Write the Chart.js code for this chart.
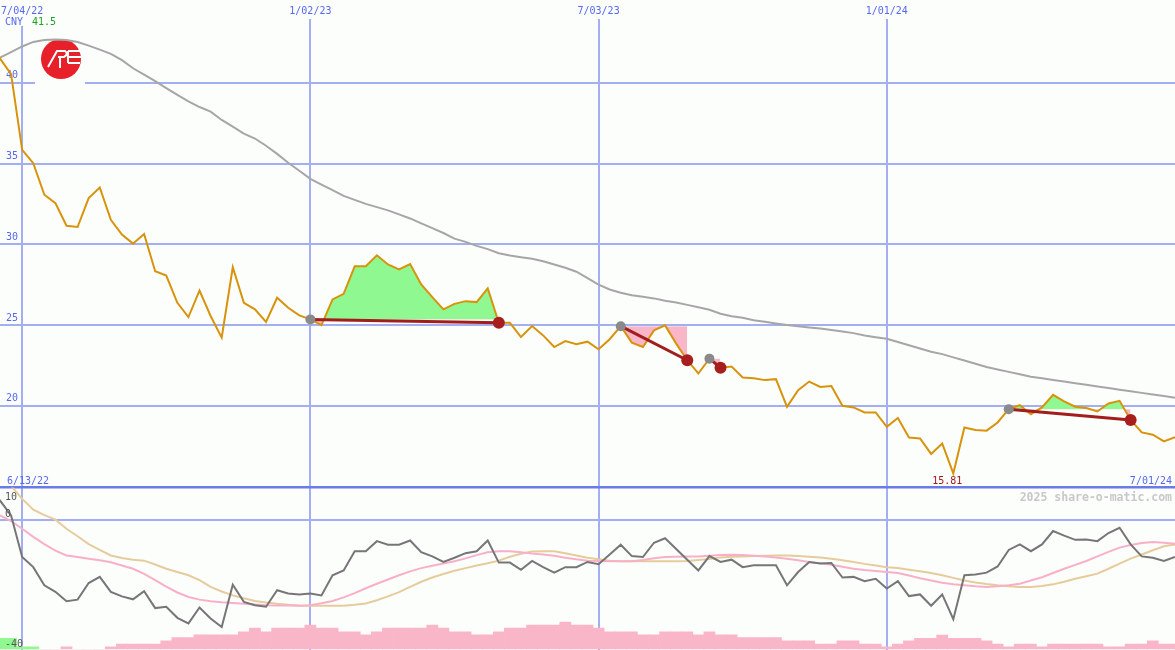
<!DOCTYPE html>
<html>
<head>
<meta charset="utf-8">
<title>CNY weekly chart</title>
<script src="https://cdn.jsdelivr.net/npm/chart.js@4.4.1/dist/chart.umd.min.js"></script>
<style>
  html, body { margin: 0; padding: 0; background: #fcfefc; }
  canvas { display: block; }
</style>
</head>
<body>
<canvas id="chart" width="1175" height="650" style="width:1175px;height:650px"></canvas>
<script>
// weekly closes, first week starts 6/13/22
const currency = 'CNY';
const firstWeek = new Date(2022, 5, 13);

const priceValues = [
  42.0, 41.5, 40.54, 35.85, 35.02, 33.07, 32.55, 31.15, 31.07, 32.86,
  33.52, 31.52, 30.6, 30.04, 30.64, 28.33, 28.06, 26.38, 25.49, 27.14,
  25.56, 24.22, 28.58, 26.38, 25.97, 25.19, 26.69, 26.07, 25.6, 25.35,
  25.0, 26.59, 26.93, 28.64, 28.64, 29.32, 28.75, 28.44, 28.78, 27.51,
  26.73, 25.97, 26.31, 26.48, 26.42, 27.27, 25.14, 25.14, 24.26, 24.94,
  24.36, 23.64, 24.01, 23.81, 23.97, 23.5, 24.12, 24.93, 23.91, 23.64,
  24.67, 24.98, 23.85, 22.82, 22.0, 22.92, 22.36, 22.43, 21.75, 21.71,
  21.59, 21.65, 19.94, 20.97, 21.5, 21.17, 21.23, 20.0, 19.9, 19.59,
  19.59, 18.7, 19.24, 18.04, 17.98, 17.02, 17.67, 15.81, 18.66, 18.5,
  18.46, 18.97, 19.79, 20.04, 19.48, 19.9, 20.68, 20.27, 19.94, 19.86,
  19.65, 20.14, 20.31, 19.12, 18.35, 18.21, 17.8, 18.05
];

// long moving average (grey)
const avgValues = [
  41.3, 41.56, 41.9, 42.25, 42.53, 42.65, 42.68, 42.65, 42.53, 42.3,
  42.05, 41.79, 41.4, 40.9, 40.5, 40.1, 39.67, 39.25, 38.85, 38.5,
  38.21, 37.7, 37.28, 36.85, 36.55, 36.1, 35.6, 35.05, 34.55, 34.05,
  33.7, 33.35, 33.0, 32.75, 32.5, 32.3, 32.1, 31.85, 31.6, 31.3,
  31.0, 30.7, 30.35, 30.15, 29.9, 29.7, 29.45, 29.3, 29.2, 29.1,
  28.95, 28.75, 28.55, 28.3, 27.9, 27.5, 27.2, 27.0, 26.85, 26.75,
  26.65, 26.5, 26.4, 26.25, 26.1, 25.95, 25.7, 25.55, 25.45, 25.3,
  25.2, 25.1, 25.0, 24.92, 24.85, 24.78, 24.7, 24.6, 24.5, 24.35,
  24.25, 24.15, 23.95, 23.75, 23.55, 23.35, 23.2, 23.0, 22.8, 22.6,
  22.4, 22.25, 22.1, 21.95, 21.8, 21.7, 21.6, 21.5, 21.4, 21.3,
  21.2, 21.1, 21.0, 20.9, 20.8, 20.7, 20.6, 20.5
];

// lower panel: oscillator (dark grey) and its two averages
const oscValues = [
  9, 6.0, 1.4, -11.4, -14.5, -20.1, -22.1, -25.0, -24.5, -19.4,
  -17.5, -22.1, -23.5, -24.4, -21.9, -27.1, -26.7, -30.1, -31.8, -26.9,
  -30.3, -32.9, -19.9, -25.2, -26.2, -26.7, -21.6, -22.6, -22.9, -22.6,
  -23.2, -17.0, -15.5, -9.6, -9.6, -6.5, -7.6, -7.6, -6.3, -9.9,
  -11.2, -12.9, -11.6, -10.2, -9.6, -6.3, -13.1, -13.1, -15.3, -12.6,
  -14.5, -16.2, -14.5, -14.5, -12.9, -13.6, -10.6, -7.6, -11.1, -11.4,
  -7.0, -5.6, -8.9, -12.2, -15.5, -11.1, -12.9, -12.2, -14.5, -13.9,
  -13.9, -13.9, -20.1, -16.0, -12.9, -13.4, -13.2, -17.7, -17.5, -18.8,
  -18.1, -21.1, -18.8, -23.4, -22.9, -26.4, -22.9, -30.5, -17.0, -16.8,
  -16.2, -14.3, -9.2, -7.5, -9.6, -7.5, -3.4, -4.8, -6.1, -6.0,
  -6.5, -4.0, -2.4, -7.5, -11.2, -11.6, -12.6, -11.4
];

const oscFast = [
  3.0, 1.4, -0.3, -2.7, -5.2, -7.4, -9.4, -10.9, -11.4, -11.9,
  -12.4, -13.0, -14.0, -15.0, -16.6, -18.5, -20.5, -22.3, -23.7, -24.5,
  -25.0, -25.3, -25.5, -25.8, -26.0, -26.2, -26.3, -26.3, -26.4, -26.2,
  -25.6, -24.9, -23.8, -22.5, -21.0, -19.6, -18.3, -17.0, -15.8, -14.8,
  -14.1, -13.4, -12.7, -11.8, -10.8, -9.9, -9.6, -9.6, -9.9, -10.3,
  -10.6, -11.0, -11.6, -12.1, -12.5, -12.6, -12.7, -12.7, -12.7, -12.3,
  -11.8, -11.4, -11.3, -11.2, -11.2, -11.0, -10.8, -10.7, -10.8, -11.0,
  -11.2, -11.5, -11.9, -12.4, -12.9, -13.3, -13.8, -14.4, -15.0, -15.4,
  -15.7, -16.0, -16.3, -17.1, -17.9, -18.6, -19.3, -19.8, -20.1, -20.4,
  -20.6, -20.4, -20.1, -19.6, -18.6, -17.6, -16.3, -15.0, -13.8, -12.6,
  -11.2, -9.8, -8.5, -7.7, -7.1, -6.8, -7.0, -7.3
];

const oscSlow = [
  18.5, 15.0, 10.5, 6.5, 3.2, 1.5, 0.1, -2.7, -5.0, -7.4,
  -9.2, -10.9, -11.7, -12.2, -12.5, -13.7, -15.0, -16.0, -17.0, -18.5,
  -20.6, -22.0, -23.2, -24.1, -24.9, -25.4, -25.8, -26.1, -26.3, -26.4,
  -26.4, -26.4, -26.4, -26.1, -25.7, -24.7, -23.5, -22.2, -20.6, -19.0,
  -17.7, -16.6, -15.6, -14.8, -14.0, -13.3, -12.5, -11.3, -10.4, -9.7,
  -9.6, -9.6, -10.2, -10.9, -11.6, -12.1, -12.5, -12.7, -12.7, -12.7,
  -12.7, -12.7, -12.7, -12.6, -12.3, -12.0, -11.5, -11.3, -11.2, -11.1,
  -11.0, -10.9, -10.9, -11.1, -11.3, -11.5, -11.9, -12.4, -12.9, -13.5,
  -14.0, -14.5, -14.8, -15.3, -15.8, -16.3, -17.0, -17.8, -18.6, -19.2,
  -19.7, -20.1, -20.4, -20.6, -20.6, -20.3, -19.8, -19.0, -18.1, -17.3,
  -16.5, -15.0, -13.4, -11.9, -10.6, -9.3, -8.1, -7.5
];

// histogram: positive = green, negative = pink, drawn up from the bottom
const histValues = [
  3.6, 3.6, 3.6, 1, 1, 0, 0, -1, 0, 0,
  0, -1, -1.85, -1.85, -1.85, -1.85, -2.8, -3.8, -3.8, -4.7,
  -4.7, -4.7, -4.7, -5.6, -6.75, -5.6, -6.75, -6.75, -6.75, -7.7,
  -6.75, -6.75, -5.6, -5.6, -4.7, -5.6, -6.75, -6.75, -6.75, -6.75,
  -7.7, -6.75, -5.6, -5.6, -4.7, -4.7, -5.6, -6.75, -6.75, -7.7,
  -7.7, -7.7, -8.6, -7.7, -7.7, -6.75, -5.6, -5.6, -5.6, -4.7,
  -4.7, -5.6, -5.6, -5.6, -4.7, -5.6, -4.7, -4.7, -3.8, -3.8,
  -3.8, -3.8, -2.8, -2.8, -2.8, -1.85, -1.85, -2.8, -2.8, -1.85,
  -1.85, -1.0, -1.85, -2.8, -3.6, -3.6, -4.6, -3.6, -3.6, -3.6,
  -2.8, -1.85, -1.0, -1.85, -1.85, -1.0, -1.85, -1.85, -1.85, -1.85,
  -1.85, -1.0, -1.0, -1.85, -1.85, -2.8, -1.85, -1.85
];
const histBase = -40;

const priceTicks = [20, 25, 30, 35, 40];
const lowerTicks = [10, 0, -40];
const dateTicks = ['7/04/22', '1/02/23', '7/03/23', '1/01/24'];

// trend signals: start (grey dot) and end (red dot)
const signalStart = ['1/02/23', '7/17/23', '9/11/23', '3/18/24'];
const signalEnd = ['5/01/23', '8/28/23', '9/18/23', '6/03/24'];

const pageBg = '#fcfefc';
const gridBlue = '#a4aef2';
const sepBlue = '#6a7ae6';
const labelBlue = '#5668ee';
const upGreen = '#90f890';
const downPink = '#f9b6c9';
const monoFont = { family: '"DejaVu Sans Mono", monospace', size: 10 };

function fmtDate(d) {
  return (d.getMonth() + 1) + '/' + String(d.getDate()).padStart(2, '0') + '/' +
    String(d.getFullYear() % 100).padStart(2, '0');
}

const weekLabels = priceValues.map((_, i) => {
  const d = new Date(firstWeek);
  d.setDate(d.getDate() + 7 * i);
  return fmtDate(d);
});

const datasets = [];

signalStart.forEach((s, k) => {
  const a = weekLabels.indexOf(s);
  const b = weekLabels.indexOf(signalEnd[k]);
  datasets.push({
    label: 'signal ' + (k + 1),
    data: priceValues.map((v, i) => (i === a || i === b) ? v : null),
    yAxisID: 'y',
    borderColor: '#a21d1d',
    borderWidth: 3,
    spanGaps: true,
    pointRadius: c => (c.dataIndex === a ? 5 : 6),
    pointBackgroundColor: c => (c.dataIndex === a ? '#8a8a8a' : '#a81e1e'),
    pointBorderWidth: 0,
    order: 0
  });
});

datasets.push({
  label: 'close',
  data: priceValues,
  yAxisID: 'y',
  borderColor: '#d8930c',
  borderWidth: 2,
  pointRadius: 0,
  order: 1
});

datasets.push({
  label: 'average',
  data: avgValues,
  yAxisID: 'y',
  borderColor: '#a6a6a6',
  borderWidth: 2,
  pointRadius: 0,
  order: 2
});

// shaded band between the close and the level at signal start
signalStart.forEach((s, k) => {
  const a = weekLabels.indexOf(s);
  const b = weekLabels.indexOf(signalEnd[k]);
  datasets.push({
    label: 'band ' + (k + 1),
    data: priceValues.map((v, i) => (i >= a && i <= b) ? v : null),
    yAxisID: 'y',
    borderColor: 'rgba(0,0,0,0)',
    borderWidth: 0,
    pointRadius: 0,
    fill: { target: { value: priceValues[a] }, above: upGreen, below: downPink },
    order: 3
  });
});

datasets.push({
  label: 'oscillator',
  data: oscValues,
  yAxisID: 'y2',
  borderColor: '#767676',
  borderWidth: 2,
  pointRadius: 0,
  order: 4
});
datasets.push({
  label: 'fast avg',
  data: oscFast,
  yAxisID: 'y2',
  borderColor: '#f8b0c8',
  borderWidth: 2,
  pointRadius: 0,
  order: 5
});
datasets.push({
  label: 'slow avg',
  data: oscSlow,
  yAxisID: 'y2',
  borderColor: '#e6cc9c',
  borderWidth: 2,
  pointRadius: 0,
  order: 6
});
datasets.push({
  type: 'bar',
  label: 'histogram',
  data: histValues.map(v => histBase + Math.abs(v)),
  base: histBase,
  yAxisID: 'y2',
  backgroundColor: histValues.map(v => (v > 0 ? upGreen : downPink)),
  borderWidth: 0,
  barPercentage: 1,
  categoryPercentage: 1,
  order: 7
});

function drawLogo(c) {
  c.save();
  c.fillStyle = pageBg;
  c.fillRect(35, 36, 50, 50);
  c.fillStyle = '#e8202a';
  c.beginPath();
  c.arc(61, 59, 20, 0, Math.PI * 2);
  c.fill();
  c.strokeStyle = '#ffffff';
  c.lineWidth = 2;
  c.beginPath();
  c.moveTo(48, 67); c.lineTo(57, 51); c.lineTo(65, 51);
  c.quadraticCurveTo(69, 54, 64, 57); c.lineTo(58, 57);
  c.moveTo(60, 57); c.lineTo(60, 68);
  c.moveTo(68, 51); c.lineTo(81, 51);
  c.moveTo(68, 57); c.lineTo(81, 57);
  c.moveTo(68, 63); c.lineTo(80, 63);
  c.moveTo(68, 51); c.lineTo(68, 63);
  c.stroke();
  c.restore();
}

const overlay = {
  id: 'overlay',
  beforeDraw(chart) {
    const c = chart.ctx;
    c.save();
    c.fillStyle = pageBg;
    c.fillRect(0, 0, chart.width, chart.height);
    c.restore();
  },
  beforeDatasetsDraw(chart) {
    drawLogo(chart.ctx);
  },
  afterDraw(chart) {
    const c = chart.ctx;
    const { x, y, y2 } = chart.scales;
    c.save();
    c.font = '10px "DejaVu Sans Mono"';
    c.textBaseline = 'alphabetic';

    c.fillStyle = pageBg;
    c.fillRect(3, 15, 54, 11);
    c.textAlign = 'left';
    c.fillStyle = labelBlue;
    c.fillText(currency, 5, 25);
    c.fillStyle = '#22a022';
    c.fillText(priceValues[x.min].toFixed(1), 32, 25);

    // first and last week of the period
    c.fillStyle = labelBlue;
    c.fillText(weekLabels[0], 7, y.bottom - 4);
    c.textAlign = 'right';
    c.fillText(weekLabels[weekLabels.length - 1], chart.width - 3, y.bottom - 4);

    // lowest close
    const low = Math.min(...priceValues);
    const li = priceValues.indexOf(low);
    c.textAlign = 'center';
    c.fillStyle = '#a01818';
    c.fillText(low.toFixed(2), x.getPixelForValue(li) - 6, y.bottom - 4);

    c.font = 'bold 11.5px "DejaVu Sans Mono"';
    c.fillStyle = '#c8c8c8';
    c.textAlign = 'right';
    c.fillText('2025 share-o-matic.com', chart.width - 3, y2.top + 13);

    // lower panel scale labels
    c.font = '10px "DejaVu Sans Mono"';
    c.fillStyle = '#555555';
    c.textAlign = 'left';
    lowerTicks.forEach((v, i) => {
      const py = y2.getPixelForValue(v);
      c.fillText(String(v), 5, i === 0 ? py + 12.5 : py - 3.5);
    });
    c.restore();
  }
};

// keep the axes from reserving room or padding in the layout
const flatY = axis => {
  axis.width = 0;
  axis.paddingTop = 0; axis.paddingBottom = 0; axis.paddingLeft = 0; axis.paddingRight = 0;
};
const flatX = axis => {
  axis.paddingLeft = 0; axis.paddingRight = 0; axis.paddingTop = 0; axis.paddingBottom = 0;
};

new Chart(document.getElementById('chart').getContext('2d'), {
  type: 'line',
  data: { labels: weekLabels, datasets: datasets },
  options: {
    responsive: false,
    animation: false,
    devicePixelRatio: 1,
    layout: { autoPadding: false, padding: { top: 3, left: 0, right: 0, bottom: 0 } },
    plugins: { legend: { display: false }, tooltip: { enabled: false } },
    elements: { line: { tension: 0 } },
    scales: {
      x: {
        type: 'category',
        position: 'top',
        min: 1,
        max: 107,
        offset: false,
        grid: { color: gridBlue, lineWidth: 2, drawTicks: false, offset: false },
        border: { display: false },
        ticks: { autoSkip: false, maxRotation: 0, padding: 2, color: labelBlue, font: monoFont },
        afterBuildTicks: axis => {
          axis.ticks = dateTicks.map(d => ({ value: weekLabels.indexOf(d) }));
        },
        afterFit: flatX
      },
      y2: {
        type: 'linear',
        axis: 'y',
        position: 'left',
        stack: 'panels',
        stackWeight: 163,
        min: -40,
        max: 10,
        grid: {
          drawTicks: false,
          color: c => (c.tick.value === lowerTicks[0] ? sepBlue : (c.tick.value === 0 ? gridBlue : 'rgba(0,0,0,0)')),
          lineWidth: c => (c.tick.value === lowerTicks[0] ? 2.5 : 2)
        },
        border: { display: false },
        ticks: { display: false },
        afterBuildTicks: axis => {
          axis.ticks = lowerTicks.map(v => ({ value: v }));
        },
        afterFit: flatY
      },
      y: {
        type: 'linear',
        position: 'left',
        stack: 'panels',
        stackWeight: 470,
        min: 14.94,
        max: 43.95,
        grid: { color: gridBlue, lineWidth: 2, drawTicks: false },
        border: { display: false },
        ticks: { mirror: true, padding: 6, labelOffset: -7, color: labelBlue, font: monoFont },
        afterBuildTicks: axis => {
          axis.ticks = priceTicks.map(v => ({ value: v }));
        },
        afterFit: flatY
      }
    }
  },
  plugins: [overlay]
});
</script>
</body>
</html>
